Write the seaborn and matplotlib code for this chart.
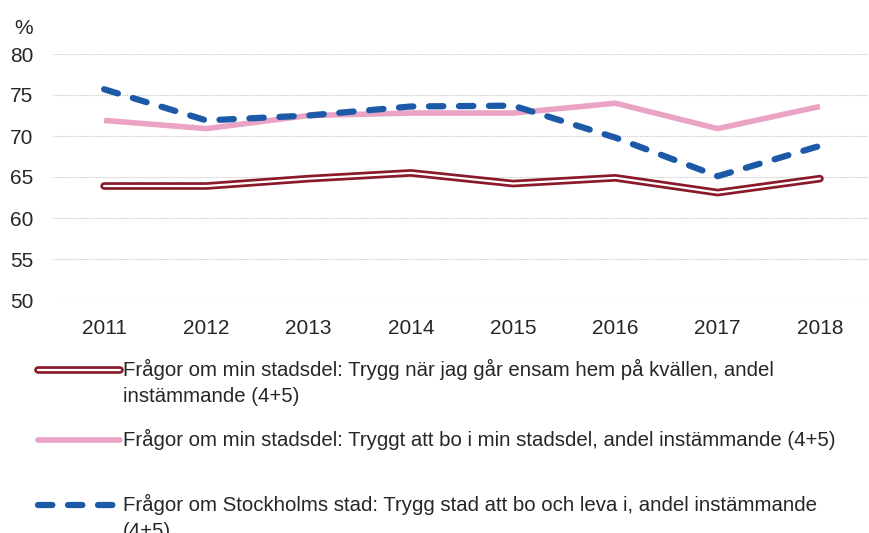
import pandas as pd
import seaborn as sns
import matplotlib.pyplot as plt
import matplotlib.patheffects as pe
from matplotlib.lines import Line2D

years = [2011, 2012, 2013, 2014, 2015, 2016, 2017, 2018]
# Trygg när jag går ensam hem på kvällen
kvall = [63.9, 63.9, 64.8, 65.5, 64.2, 64.9, 63.1, 64.8]
# Tryggt att bo i min stadsdel
bo_stadsdel = [71.9, 70.9, 72.5, 72.8, 72.8, 74.0, 70.9, 73.6]
# Trygg stad att bo och leva i
stad = [75.7, 71.9, 72.5, 73.6, 73.7, 69.8, 65.1, 68.8]

labels = [
    "Frågor om min stadsdel: Trygg när jag går ensam hem på kvällen, andel\ninstämmande (4+5)",
    "Frågor om min stadsdel: Tryggt att bo i min stadsdel, andel instämmande (4+5)",
    "Frågor om Stockholms stad: Trygg stad att bo och leva i, andel instämmande\n(4+5)",
]

RED = "#8a1a2a"
PINK = "#eaa3c4"
BLUE = "#1c5aa8"

df = pd.DataFrame({
    "year": years * 3,
    "value": kvall + bo_stadsdel + stad,
    "serie": ["kvall"] * 8 + ["bo"] * 8 + ["stad"] * 8,
})

sns.set_style("white")
plt.rcParams["font.family"] = ["Liberation Sans", "DejaVu Sans"]

fig = plt.figure(figsize=(8.69, 5.33), dpi=100)
ax = fig.add_axes([53 / 869, 233 / 533, 1 - 53 / 869, 246 / 533])

red_fx = [pe.Stroke(linewidth=5.5, foreground=RED), pe.Normal()]

sns.lineplot(data=df[df.serie == "bo"], x="year", y="value", ax=ax,
             color=PINK, lw=4, solid_capstyle="butt", zorder=3)
sns.lineplot(data=df[df.serie == "kvall"], x="year", y="value", ax=ax,
             color="white", lw=1.6, path_effects=red_fx, zorder=3)
sns.lineplot(data=df[df.serie == "stad"], x="year", y="value", ax=ax,
             color=BLUE, lw=4.5, dashes=(2.3, 2.5), dash_capstyle="round", zorder=4)

ax.set_xlim(2010.5, 2018.48)
ax.set_ylim(50, 80)
ax.set_yticks(range(50, 81, 5))
ax.set_xticks(years)
ax.set_xlabel("")
ax.set_ylabel("")
ax.grid(axis="y", color="#c4c4c4", linestyle=(0, (1, 1)), lw=0.8)
ax.grid(axis="x", visible=False)
for s in ax.spines.values():
    s.set_visible(False)
ax.tick_params(axis="y", labelsize=15, pad=14, length=0)
ax.tick_params(axis="x", labelsize=15, pad=14, length=0)

fig.text(14 / 869, 1 - 28 / 533, "%", fontsize=15, va="center", ha="left")

# legend drawn by hand so the handle sits on the first text line
leg_y = [370, 440, 505]
handles = [
    dict(color="white", lw=1.6, path_effects=red_fx),
    dict(color=PINK, lw=4),
    dict(color=BLUE, lw=4.5, dashes=(2.3, 2.5), dash_capstyle="round"),
]
for y, lab, h in zip(leg_y, labels, handles):
    yf = 1 - y / 533
    fig.add_artist(Line2D([38 / 869, 120 / 869], [yf, yf], transform=fig.transFigure, **h))
    fig.text(123 / 869, yf + 11 / 533, lab, fontsize=14.7, va="top", ha="left",
             linespacing=1.45)

plt.savefig("out.png", dpi=100)
